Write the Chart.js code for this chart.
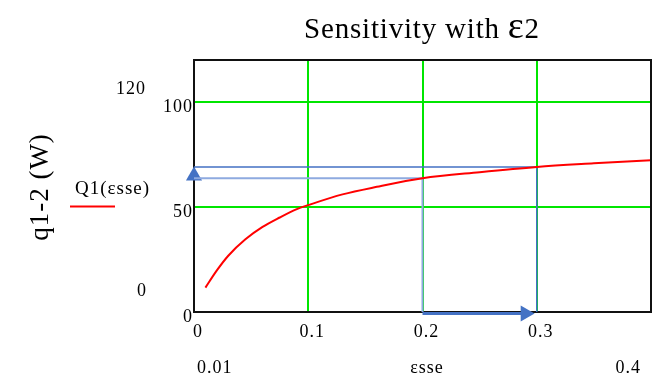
<!DOCTYPE html>
<html>
<head>
<meta charset="utf-8">
<script src="https://cdn.jsdelivr.net/npm/chart.js@4.4.1/dist/chart.umd.min.js"></script>
<style>
  html, body { margin: 0; padding: 0; background: #fff; }
  #wrap { width: 668px; height: 382px; }
</style>
</head>
<body>
<div id="wrap"><canvas id="sens" width="668" height="382"></canvas></div>
<script>
// Curve data
const esse = [0.01, 0.02, 0.03, 0.045, 0.06, 0.075, 0.09, 0.1, 0.13, 0.16, 0.2, 0.25, 0.3, 0.35, 0.4];
const q12 = [11.6, 19.8, 26.8, 34.6, 40.5, 45, 49, 50.9, 56, 59.6, 63.7, 66.6, 69.1, 70.8, 72.3];

// Axis ticks
const xTicks = [0, 0.1, 0.2, 0.3];
const yTicks = [0, 50, 100];
const xLimits = [0, 0.4];
const yLimits = [0, 120];

// Guide lines (blue) at eps = 0.2 and 0.3
const guideX = [0.2, 0.3];
const guideQ = [63.7, 69.1];

const serif = "'Liberation Serif', 'Times New Roman', serif";
const green = "#00e600";
const blue = "#4472c4";

function pts(xs, ys) {
  return xs.map((x, i) => ({ x: x, y: ys[i] }));
}

// Extra text, legend and frame (Mathcad style)
const decorations = {
  id: "decorations",
  beforeDraw(chart) {
    // reference text is set a little wider than Liberation Serif
    chart.ctx.letterSpacing = "1px";
  },
  afterDraw(chart) {
    const ctx = chart.ctx;
    const a = chart.chartArea;
    ctx.save();
    // top and right frame
    ctx.strokeStyle = "#111";
    ctx.lineWidth = 2;
    ctx.beginPath();
    ctx.moveTo(a.left, a.top);
    ctx.lineTo(a.right, a.top);
    ctx.lineTo(a.right, a.bottom);
    ctx.stroke();

    ctx.fillStyle = "#000";
    // title
    ctx.textBaseline = "alphabetic";
    ctx.letterSpacing = "0.8px";
    const t1 = "Sensitivity with ";
    ctx.font = "29px " + serif;
    const w1 = ctx.measureText(t1).width;
    ctx.font = "38px " + serif;
    const w2 = ctx.measureText("\u03b5").width;
    ctx.font = "29px " + serif;
    const w3 = ctx.measureText("2").width;
    let tx = 422 - (w1 + w2 + w3) / 2;
    ctx.textAlign = "left";
    ctx.fillText(t1, tx, 38);
    ctx.font = "38px " + serif;
    ctx.fillText("\u03b5", tx + w1, 38);
    ctx.font = "29px " + serif;
    ctx.fillText("2", tx + w1 + w2, 38);

    // axis range labels
    ctx.letterSpacing = "1px";
    ctx.textBaseline = "middle";
    ctx.font = "18px " + serif;
    ctx.textAlign = "center";
    ctx.fillText(String(yLimits[1]), 131, 89);
    ctx.fillText(String(yLimits[0]), 142, 291);
    ctx.textAlign = "left";
    ctx.fillText(String(esse[0]), 197, 368);
    ctx.textAlign = "center";
    ctx.fillText("\u03b5sse", 427, 368);
    ctx.textAlign = "right";
    ctx.fillText(String(esse[esse.length - 1]), 641, 368);

    // legend
    ctx.font = "19px " + serif;
    ctx.textAlign = "left";
    ctx.fillText("Q1(\u03b5sse)", 75, 189);
    ctx.strokeStyle = "#ff0000";
    ctx.lineWidth = 2;
    ctx.beginPath();
    ctx.moveTo(70, 206.5);
    ctx.lineTo(115, 206.5);
    ctx.stroke();

    // y axis title
    ctx.translate(41, 187);
    ctx.rotate(-Math.PI / 2);
    ctx.textAlign = "center";
    ctx.font = "27px " + serif;
    ctx.fillText("q1-2 (W)", 0, 0);
    ctx.restore();
  },
};

const ctx = document.getElementById("sens").getContext("2d");
new Chart(ctx, {
  type: "line",
  data: {
    datasets: [
      {
        label: "Q1(esse)",
        data: pts(esse, q12),
        borderColor: "#ff0000",
        borderWidth: 2,
        pointRadius: 0,
        cubicInterpolationMode: "monotone",
      },
      {
        // upper horizontal guide and vertical at 0.3
        data: [
          { x: xLimits[0], y: guideQ[1] },
          { x: guideX[1], y: guideQ[1] },
          { x: guideX[1], y: yLimits[0] },
        ],
        borderColor: blue,
        borderWidth: 1.5,
        pointRadius: 0,
        clip: false,
      },
      {
        // lower horizontal guide and vertical at 0.2
        data: [
          { x: xLimits[0], y: guideQ[0] },
          { x: guideX[0], y: guideQ[0] },
          { x: guideX[0], y: yLimits[0] },
        ],
        borderColor: "#8eaae0",
        borderWidth: 2,
        pointRadius: 0,
        clip: false,
      },
      {
        // arrow along the bottom from 0.2 to 0.3
        data: [
          { x: guideX[0], y: -0.7 },
          { x: guideX[1] - 0.01, y: -0.7 },
        ],
        borderColor: blue,
        borderWidth: 3,
        pointRadius: [0, 9.3],
        pointStyle: "triangle",
        rotation: 90,
        pointBackgroundColor: blue,
        pointBorderColor: blue,
        pointBorderWidth: 0,
        clip: false,
      },
      {
        // up arrow on the q axis
        data: [{ x: xLimits[0], y: 64.8 }],
        showLine: false,
        pointRadius: 9.3,
        pointStyle: "triangle",
        pointBackgroundColor: blue,
        pointBorderColor: blue,
        pointBorderWidth: 0,
        clip: false,
      },
    ],
  },
  options: {
    responsive: false,
    animation: false,
    devicePixelRatio: 1,
    layout: { padding: { left: 0, right: 17, top: 60, bottom: 0 } },
    plugins: {
      legend: { display: false },
      title: { display: false },
      tooltip: { enabled: false },
    },
    scales: {
      x: {
        type: "linear",
        min: xLimits[0],
        max: xLimits[1],
        afterBuildTicks: (s) => {
          s.ticks = xTicks.map((v) => ({ value: v }));
        },
        afterFit: (s) => {
          s.height = 70;
        },
        grid: {
          color: (c) => (c.tick && c.tick.value === 0 ? "rgba(0,0,0,0)" : green),
          lineWidth: 2,
          drawTicks: false,
        },
        border: { display: true, color: "#111", width: 2 },
        ticks: {
          color: "#000",
          font: { family: serif, size: 18 },
          padding: 9,
          labelOffset: 4,
          maxRotation: 0,
          callback: (v) => String(v),
        },
      },
      y: {
        min: yLimits[0],
        max: yLimits[1],
        afterBuildTicks: (s) => {
          s.ticks = yTicks.map((v) => ({ value: v }));
        },
        afterFit: (s) => {
          s.width = 194;
        },
        grid: {
          color: (c) => (c.tick && c.tick.value === 0 ? "rgba(0,0,0,0)" : green),
          lineWidth: 2,
          drawTicks: false,
        },
        border: { display: true, color: "#111", width: 2 },
        ticks: {
          color: "#000",
          font: { family: serif, size: 18 },
          padding: 1,
          labelOffset: 5,
          callback: (v) => String(v),
        },
      },
    },
  },
  plugins: [decorations],
});
</script>
</body>
</html>
